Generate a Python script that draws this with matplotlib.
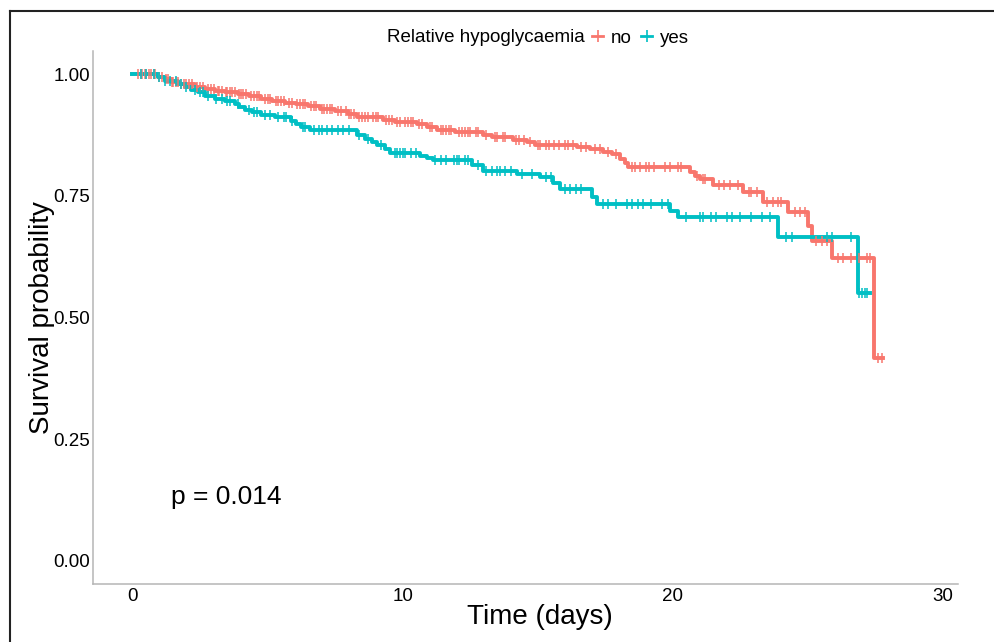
import numpy as np
import matplotlib
matplotlib.use("Agg")
import matplotlib.pyplot as plt
from matplotlib.lines import Line2D

plt.rcParams['font.family'] = ['Liberation Sans', 'DejaVu Sans']

# ---- data: Kaplan-Meier step estimates (time in days, survival probability) ----
no_times = [0, 0.93, 1.19, 1.41, 1.74, 2.30, 2.67, 3.04, 3.41, 3.89, 4.33, 4.74, 5.15,
            5.63, 6.04, 6.48, 6.93, 7.48, 7.96, 8.30, 9.26, 9.70, 10.52, 10.89, 11.26,
            11.93, 12.96, 13.30, 14.07, 14.59, 14.89, 16.44, 16.93, 17.41, 17.74, 18.04,
            18.22, 18.33, 20.63, 20.81, 21.00, 21.48, 22.59, 23.33, 24.26, 25.00, 25.15,
            25.89, 27.44]
no_surv = [1.0, 0.995, 0.990, 0.985, 0.981, 0.975, 0.970, 0.966, 0.963, 0.959, 0.955,
           0.950, 0.946, 0.942, 0.939, 0.934, 0.929, 0.924, 0.918, 0.912, 0.906, 0.902,
           0.897, 0.892, 0.886, 0.881, 0.876, 0.871, 0.866, 0.860, 0.855, 0.850, 0.846,
           0.840, 0.836, 0.826, 0.818, 0.809, 0.799, 0.790, 0.785, 0.772, 0.758, 0.738,
           0.716, 0.688, 0.658, 0.623, 0.416]
no_end = 27.78

yes_times = [0, 0.93, 1.19, 1.67, 1.93, 2.15, 2.41, 2.67, 3.04, 3.41, 3.78, 3.96, 4.15,
             4.41, 4.74, 5.26, 5.85, 6.04, 6.22, 6.56, 8.30, 8.59, 8.85, 9.04, 9.33,
             9.52, 10.63, 10.89, 11.11, 12.56, 12.96, 14.22, 15.07, 15.56, 15.81, 17.00,
             17.19, 19.89, 20.19, 23.89, 26.85]
yes_surv = [1.0, 0.994, 0.987, 0.980, 0.973, 0.968, 0.963, 0.956, 0.950, 0.946, 0.939,
            0.932, 0.927, 0.922, 0.917, 0.912, 0.905, 0.898, 0.891, 0.885, 0.876, 0.868,
            0.861, 0.854, 0.847, 0.839, 0.832, 0.827, 0.823, 0.813, 0.802, 0.796, 0.789,
            0.776, 0.765, 0.748, 0.734, 0.720, 0.706, 0.665, 0.551]
yes_end = 27.30

no_censor = [0.2, 0.3, 0.35, 0.45, 0.5, 0.6, 0.7, 0.8, 0.85, 1.0, 1.1, 1.25, 1.3, 1.45,
             1.5, 1.6, 1.7, 1.8, 1.9, 2.0, 2.1, 2.2, 2.4, 2.5, 2.6, 2.8, 2.9, 3.0, 3.15,
             3.2, 3.3, 3.45, 3.5, 3.6, 3.7, 3.8, 3.95, 4.0, 4.1, 4.2, 4.4, 4.5, 4.6, 4.7,
             4.9, 5.0, 5.1, 5.3, 5.4, 5.5, 5.6, 5.8, 5.9, 6.1, 6.2, 6.3, 6.4, 6.6, 6.7,
             6.8, 7.0, 7.1, 7.2, 7.3, 7.4, 7.6, 7.7, 7.9, 8.0, 8.1, 8.2, 8.4, 8.5, 8.6,
             8.7, 8.9, 9.0, 9.1, 9.4, 9.5, 9.6, 9.8, 9.9, 10.1, 10.2, 10.3, 10.4, 10.6,
             10.7, 11.0, 11.1, 11.4, 11.5, 11.6, 11.7, 11.8, 12.1, 12.2, 12.3, 12.4,
             12.5, 12.7, 12.8, 13.1, 13.4, 13.5, 13.7, 13.8, 14.2, 14.3, 14.5, 14.7,
             15.0, 15.1, 15.3, 15.4, 15.6, 15.8, 16.0, 16.1, 16.3, 16.6, 16.8, 17.1,
             17.3, 17.6, 17.9, 18.5, 18.6, 18.8, 19.0, 19.1, 19.3, 19.7, 19.9, 20.2,
             20.3, 20.9, 21.1, 21.2, 21.7, 21.9, 22.1, 22.4, 22.8, 22.9, 23.1, 23.5,
             23.7, 23.9, 24.0, 24.5, 24.7, 24.9, 25.3, 25.5, 25.7, 26.1, 26.3, 26.6,
             26.9, 27.2, 27.3, 27.6, 27.75]
yes_censor = [0.3, 0.5, 0.8, 1.0, 1.2, 1.4, 1.6, 1.8, 2.0, 2.3, 2.5, 2.6, 2.8, 3.1, 3.3,
              3.5, 3.6, 3.9, 4.3, 4.5, 4.6, 4.9, 5.1, 5.4, 5.6, 5.7, 5.9, 6.3, 6.4, 6.7,
              6.9, 7.0, 7.2, 7.4, 7.6, 7.8, 8.0, 8.4, 8.7, 9.2, 9.7, 9.8, 9.9, 10.0,
              10.1, 10.3, 10.5, 11.2, 11.4, 11.6, 11.9, 12.0, 12.1, 12.3, 12.4, 12.8,
              13.1, 13.3, 13.5, 13.6, 13.8, 14.0, 14.4, 14.8, 15.3, 15.5, 16.0, 16.2,
              16.4, 16.6, 17.4, 17.6, 17.9, 18.3, 18.5, 18.7, 18.9, 19.2, 19.6, 19.8,
              20.5, 21.0, 21.1, 21.4, 21.6, 22.0, 22.2, 22.5, 22.9, 23.3, 23.6, 24.2,
              24.4, 25.7, 25.9, 26.6, 26.9, 27.0, 27.1, 27.2]

groups = ["no", "yes"]
colors = {"no": "#F8766D", "yes": "#00BFC4"}
x_ticks = [0, 10, 20, 30]
y_ticks = [0.00, 0.25, 0.50, 0.75, 1.00]
p_label = "p = 0.014"

series = {
    "no": (no_times, no_surv, no_end, no_censor),
    "yes": (yes_times, yes_surv, yes_end, yes_censor),
}

fig = plt.figure(figsize=(9.94, 6.42), dpi=100)
W, H = 994, 642
ax = fig.add_axes([93 / W, 1 - 584 / H, (958 - 93) / W, (584 - 51) / H])

for g in groups:
    t, s, tend, cens = series[g]
    tt = np.array(list(t) + [tend])
    ss = np.array(list(s) + [s[-1]])
    ax.step(tt, ss, where='post', color=colors[g], lw=2.8, zorder=3)
    c = np.array(cens)
    idx = np.searchsorted(np.array(t), c, side='right') - 1
    ax.plot(c, np.array(s)[idx], linestyle='none', marker='|', markersize=7.5,
            markeredgewidth=1.1, color=colors[g], zorder=4)

ax.set_xlim(-1.46, 30.55)
ax.set_ylim(-0.048, 1.048)
ax.set_xticks(x_ticks)
ax.set_xticklabels([str(v) for v in x_ticks])
ax.set_yticks(y_ticks)
ax.set_yticklabels([f"{v:.2f}" for v in y_ticks])
ax.tick_params(length=0, labelsize=13.5, colors='black')
ax.tick_params(axis='y', pad=2)
ax.tick_params(axis='x', pad=3)
for sp in ['top', 'right']:
    ax.spines[sp].set_visible(False)
for sp in ['left', 'bottom']:
    ax.spines[sp].set_color('#b5b5b5')
    ax.spines[sp].set_linewidth(1.1)

ax.set_xlabel("Time (days)", fontsize=20)
ax.xaxis.set_label_coords((540 - 93) / (958 - 93), -0.037)
ax.set_ylabel("Survival probability", fontsize=20)
ax.yaxis.set_label_coords(-(93 - 55) / (958 - 93), 0.5)

ax.text(1.44, 0.13, p_label, fontsize=19, ha='left', va='center')

# legend
fig.text(387 / W, 1 - 38 / H, "Relative hypoglycaemia", fontsize=13.5, ha='left', va='center')
handles = [Line2D([], [], color=colors[g], marker='|', markersize=8, markeredgewidth=1.2,
                  lw=2.0) for g in groups]
fig.legend(handles, groups, loc='center left', bbox_to_anchor=(592 / W, 1 - 38 / H),
           ncol=2, frameon=False, fontsize=13.5, handlelength=0.6, handletextpad=0.4,
           columnspacing=0.5, borderpad=0, borderaxespad=0)

# outer frame (partially visible)
fig.add_artist(Line2D([10 / W, 1.0], [1 - 11 / H, 1 - 11 / H], transform=fig.transFigure,
                      color='#222222', lw=1.5))
fig.add_artist(Line2D([10 / W, 10 / W], [1 - 11 / H, 0.0], transform=fig.transFigure,
                      color='#222222', lw=1.5))

fig.savefig("out.png", dpi=100)
